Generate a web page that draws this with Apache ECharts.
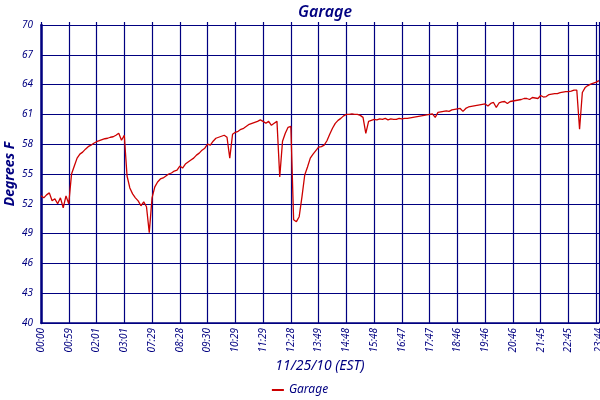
<!DOCTYPE html>
<html>
<head>
<meta charset="utf-8">
<script src="https://cdn.jsdelivr.net/npm/echarts@6/dist/echarts.min.js"></script>
<style>html,body{margin:0;padding:0;background:#fff}#c{width:600px;height:400px}</style>
</head>
<body>
<div id="c"></div>
<script>
const tickLabels = ['00:00','00:59','02:01','03:01','07:29','08:28','09:30','10:29','11:29','12:28','13:49','14:48','15:48','16:47','17:47','18:46','19:46','20:46','21:45','22:45','23:44'];
const lastLabel = '23:44';
const pointsPerTick = 10;
const temps = [
52.8,52.6,52.9,53.1,52.3,52.5,52.0,52.6,51.6,52.8,
52.0,55.0,55.8,56.6,57.0,57.2,57.5,57.75,57.9,58.1,
58.25,58.35,58.45,58.55,58.6,58.7,58.75,58.9,59.1,58.4,
58.9,54.8,53.6,53.0,52.6,52.3,51.8,52.2,51.7,49.1,
52.6,53.7,54.2,54.5,54.6,54.8,55.0,55.1,55.3,55.4,
55.8,55.6,56.0,56.2,56.4,56.6,56.9,57.1,57.4,57.6,
58.0,57.9,58.3,58.6,58.7,58.8,58.9,58.7,56.6,59.0,
59.2,59.3,59.5,59.6,59.8,60.0,60.1,60.2,60.3,60.45,
60.3,60.1,60.3,59.9,60.1,60.3,54.7,58.3,59.1,59.7,
59.8,50.4,50.2,50.7,52.7,54.9,55.7,56.6,57.0,57.35,
57.7,57.75,57.9,58.35,59.0,59.6,60.1,60.4,60.6,60.85,
61.0,61.0,61.05,61.0,61.0,60.9,60.7,59.1,60.3,60.4,
60.5,60.45,60.55,60.5,60.6,60.45,60.55,60.5,60.5,60.6,
60.55,60.6,60.6,60.65,60.7,60.75,60.8,60.85,60.9,60.95,
61.0,61.05,60.7,61.2,61.25,61.3,61.35,61.3,61.45,61.5,
61.55,61.6,61.3,61.6,61.75,61.8,61.85,61.9,61.95,62.0,
62.05,61.85,62.1,62.2,61.7,62.15,62.25,62.3,62.1,62.3,
62.35,62.4,62.45,62.5,62.6,62.6,62.5,62.7,62.65,62.6,
62.9,62.75,62.8,63.0,63.05,63.1,63.1,63.2,63.25,63.3,
63.3,63.35,63.45,63.45,59.5,63.2,63.7,63.9,64.05,64.15,
64.25,64.4
];
const yTicks = {min: 40, max: 70, step: 3};

const lastIdx = temps.length - 1;
const categories = temps.map((v, i) => {
  if (i === lastIdx) return lastLabel;
  if (i % pointsPerTick === 0) return tickLabels[i / pointsPerTick];
  return '#' + i;
});
const shown = (i) => i % pointsPerTick === 0 || i === lastIdx;

const NAVY = '#000080';
const FONT = '"Noto Sans", "Open Sans", sans-serif';

const chart = echarts.init(document.getElementById('c'), null, {renderer: 'canvas'});
chart.setOption({
  animation: false,
  backgroundColor: '#fff',
  title: {
    text: 'Garage', left: 320, top: -1, textAlign: 'center',
    textStyle: {color: NAVY, fontFamily: FONT, fontStyle: 'italic', fontWeight: 600, fontSize: 16}
  },
  legend: {
    bottom: -1, left: 'center',
    icon: 'rect', itemWidth: 12, itemHeight: 2, itemGap: 4,
    textStyle: {color: NAVY, fontFamily: FONT, fontStyle: 'italic', fontSize: 12},
    data: ['Garage']
  },
  grid: {left: 41, right: 1, top: 25, bottom: 77, containLabel: false, outerBoundsMode: 'none'},
  xAxis: [{
    type: 'category', data: categories, boundaryGap: false, position: 'bottom',
    name: '11/25/10 (EST)', nameLocation: 'middle', nameGap: 36, nameMoveOverlap: false,
    nameTextStyle: {color: NAVY, fontFamily: FONT, fontStyle: 'italic', fontSize: 14},
    axisLine: {show: true, lineStyle: {color: NAVY, width: 1.5}},
    axisTick: {show: false},
    axisLabel: {
      interval: (i) => shown(i), rotate: 90, margin: 5,
      color: NAVY, fontFamily: FONT, fontStyle: 'italic', fontSize: 10,
      showMinLabel: true, showMaxLabel: true, hideOverlap: false
    },
    splitLine: {show: true, interval: (i) => shown(i), lineStyle: {color: NAVY, width: 1.2}}
  }, {
    type: 'category', data: categories, boundaryGap: false, position: 'top',
    axisLine: {show: true, lineStyle: {color: NAVY, width: 1.2}},
    axisTick: {show: true, inside: false, length: 3, interval: (i) => shown(i), lineStyle: {color: NAVY, width: 1.2}},
    axisLabel: {show: false},
    splitLine: {show: false}
  }],
  yAxis: {
    type: 'value', min: yTicks.min, max: yTicks.max, interval: yTicks.step,
    name: 'Degrees F', nameLocation: 'middle', nameGap: 24, nameRotate: 90, nameMoveOverlap: false,
    nameTextStyle: {color: NAVY, fontFamily: FONT, fontStyle: 'italic', fontWeight: 'bold', fontSize: 14},
    axisLine: {show: true, lineStyle: {color: NAVY, width: 2.5}},
    axisTick: {show: false},
    axisLabel: {margin: 8, color: NAVY, fontFamily: FONT, fontStyle: 'italic', fontSize: 10},
    splitLine: {show: true, lineStyle: {color: NAVY, width: 1.2}}
  },
  series: [{
    name: 'Garage', type: 'line', data: temps, xAxisIndex: 0,
    symbol: 'none', showSymbol: false,
    color: '#cc0000',
    lineStyle: {color: '#cc0000', width: 1.3},
    z: 5
  }]
});
</script>
</body>
</html>
